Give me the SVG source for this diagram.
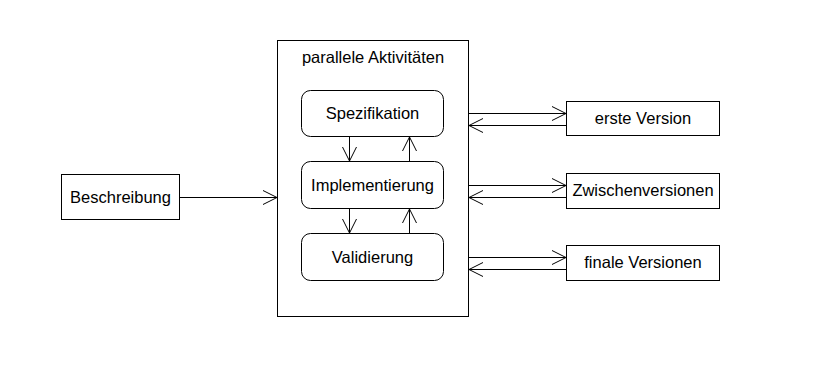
<svg xmlns="http://www.w3.org/2000/svg" width="814" height="374" viewBox="0 0 814 374">
  <style>
    .box { fill: #ffffff; stroke: #000000; stroke-width: 1; }
    .lbl { font-family: "Liberation Sans", Arial, sans-serif; font-size: 16.5px; fill: #000000; text-anchor: middle; }
    .edge { stroke: #000000; stroke-width: 1; fill: none; marker-end: url(#open); }
  </style>
  <defs>
    <!-- open V arrowhead used on every connector -->
    <marker id="open" viewBox="0 0 16 16" refX="15" refY="8" markerWidth="16" markerHeight="16" markerUnits="userSpaceOnUse" orient="auto">
      <path d="M1,1 L15,8 L1,15" fill="none" stroke="#000000" stroke-width="1"/>
    </marker>
  </defs>
  <rect width="814" height="374" fill="#ffffff"/>

  <g id="parallel">
    <rect class="box" x="277.5" y="40.5" width="191" height="276"/>
    <text class="lbl" x="373" y="63">parallele Aktivitäten</text>
  </g>
  <g id="spezifikation">
    <rect class="box" x="301.5" y="90.5" width="142" height="46" rx="9" ry="9"/>
    <text class="lbl" x="372.5" y="119">Spezifikation</text>
  </g>
  <g id="implementierung">
    <rect class="box" x="301.5" y="161.5" width="142" height="47" rx="9" ry="9"/>
    <text class="lbl" x="372.5" y="191">Implementierung</text>
  </g>
  <g id="validierung">
    <rect class="box" x="301.5" y="233.5" width="142" height="47" rx="9" ry="9"/>
    <text class="lbl" x="372.5" y="263">Validierung</text>
  </g>
  <g id="beschreibung">
    <rect class="box" x="61.5" y="174.5" width="118" height="45"/>
    <text class="lbl" x="120.5" y="203">Beschreibung</text>
  </g>
  <g id="erste">
    <rect class="box" x="566.5" y="101.5" width="153" height="34"/>
    <text class="lbl" x="643" y="124">erste Version</text>
  </g>
  <g id="zwischen">
    <rect class="box" x="566.5" y="173.5" width="153" height="35"/>
    <text class="lbl" x="643" y="196">Zwischenversionen</text>
  </g>
  <g id="finale">
    <rect class="box" x="566.5" y="245.5" width="153" height="35"/>
    <text class="lbl" x="643" y="268">finale Versionen</text>
  </g>

  <g id="connectors">
    <line class="edge" x1="180" y1="197.5" x2="277" y2="197.5"/>
    <line class="edge" x1="349.5" y1="137" x2="349.5" y2="161"/>
    <line class="edge" x1="409.5" y1="161" x2="409.5" y2="137"/>
    <line class="edge" x1="349.5" y1="209" x2="349.5" y2="233"/>
    <line class="edge" x1="409.5" y1="233" x2="409.5" y2="209"/>
    <line class="edge" x1="469" y1="113.5" x2="566" y2="113.5"/>
    <line class="edge" x1="566" y1="125.5" x2="469" y2="125.5"/>
    <line class="edge" x1="469" y1="185.5" x2="566" y2="185.5"/>
    <line class="edge" x1="566" y1="197.5" x2="469" y2="197.5"/>
    <line class="edge" x1="469" y1="257.5" x2="566" y2="257.5"/>
    <line class="edge" x1="566" y1="269.5" x2="469" y2="269.5"/>
  </g>
</svg>
